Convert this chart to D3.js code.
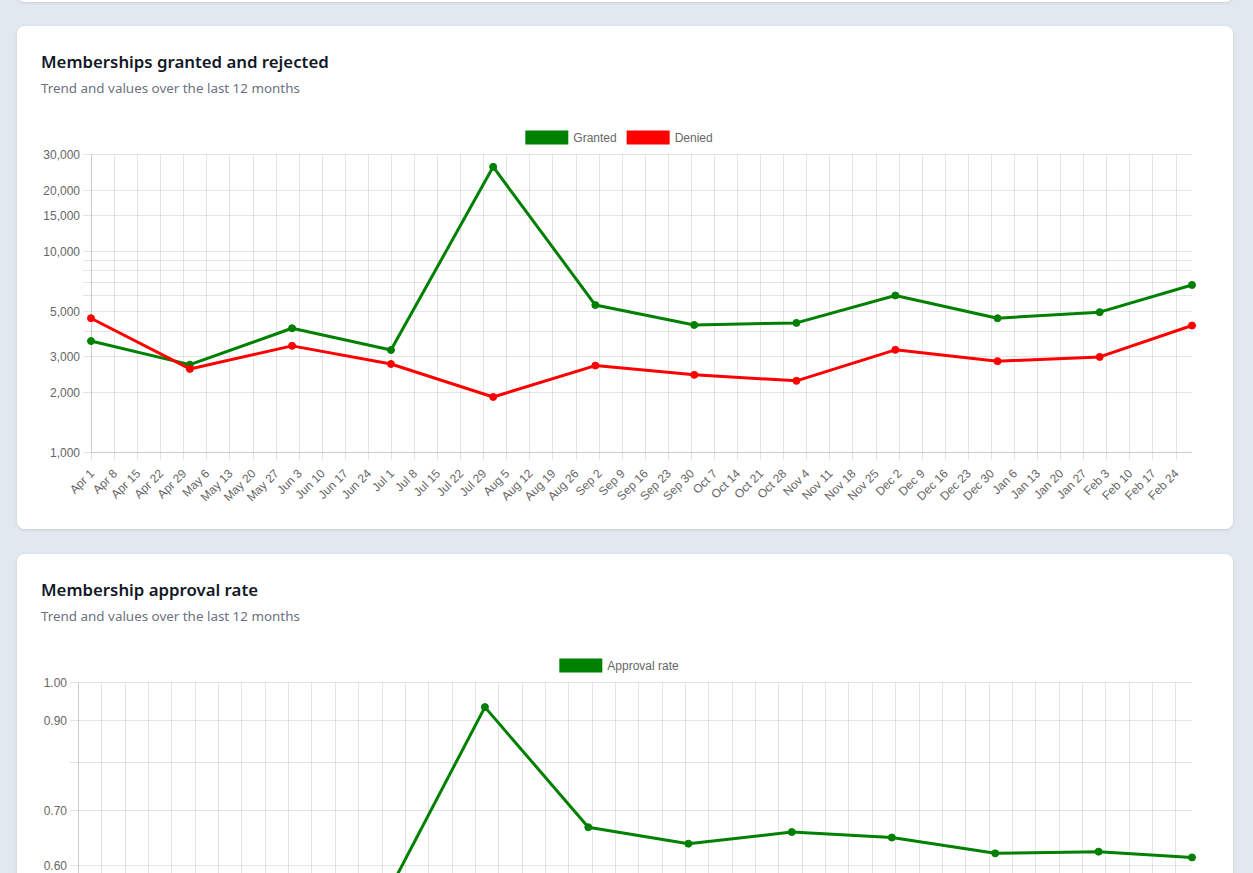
<!DOCTYPE html>
<html><head><meta charset="utf-8">
<script src="https://cdn.jsdelivr.net/npm/d3@7"></script>
<style>
html,body{margin:0;padding:0;background:#e2e8f0;overflow:hidden;}
svg{display:block;}
</style></head><body>
<svg id="c" width="1253" height="873"></svg>
<script>
// ---- data ----
const months = ["2024-04-01","2024-05-01","2024-06-01","2024-07-01","2024-08-01","2024-09-01",
                "2024-10-01","2024-11-01","2024-12-01","2025-01-01","2025-02-01","2025-03-01"];
const granted = [3560, 2720, 4120, 3215, 26000, 5370, 4280, 4380, 5990, 4620, 4950, 6750];
const denied  = [4620, 2590, 3370, 2740, 1880, 2690, 2420, 2260, 3220, 2830, 2970, 4250];
const approvalRate = [0.436, 0.512, 0.550, 0.537, 0.933, 0.667, 0.637, 0.658, 0.648, 0.620, 0.623, 0.613];

const countTicks = [1000,2000,3000,4000,5000,6000,7000,8000,9000,10000,15000,20000,30000];
const countTickLabels = ["1,000","2,000","3,000","","5,000","","","","","10,000","15,000","20,000","30,000"];
const rateTicks = [0.43,0.44,0.45,0.46,0.47,0.48,0.49,0.5,0.55,0.6,0.7,0.8,0.9,1.0];
const rateTickLabels = ["0.43","","0.45","","","","","0.50","0.55","0.60","0.70","","0.90","1.00"];

const titles = ["Memberships granted and rejected", "Membership approval rate"];
const subtitle = "Trend and values over the last 12 months";
const seriesNames = ["Granted", "Denied", "Approval rate"];
const colors = ["#008000", "#ff0000"];

// ---- drawing ----
const svg = d3.select("#c");
const defs = svg.append("defs");
const f = defs.append("filter").attr("id","sh").attr("x","-5%").attr("y","-5%").attr("width","110%").attr("height","110%");
f.append("feDropShadow").attr("dx",0).attr("dy",1).attr("stdDeviation",1.5).attr("flood-color","#000").attr("flood-opacity",0.12);

const parse = d3.utcParse("%Y-%m-%d");
const dates = months.map(parse);
const fmtDate = d3.utcFormat("%b %-d");
const LBL = "'Liberation Sans', Arial, Helvetica, sans-serif";
const TTL = "'Noto Sans', sans-serif";
const grid = "rgba(0,0,0,0.1)";
const VIEW_H = 873;

function card(y, h){
  svg.append("rect").attr("x",17).attr("y",y).attr("width",1216).attr("height",h)
    .attr("rx",8).attr("fill","#fff").attr("filter","url(#sh)");
}
card(-40, 42);
card(26, 503);
card(554, 503);

function header(top, title){
  svg.append("text").attr("x",41).attr("y",top+42).text(title)
    .attr("font-family",TTL).attr("font-weight",600).attr("font-size",16.8).attr("fill","#111827");
  svg.append("text").attr("x",41).attr("y",top+67).text(subtitle)
    .attr("font-family",TTL).attr("font-size",13.4).attr("fill","#6b7280");
}

function legend(top, items){
  const g = svg.append("g");
  const widths = items.map(it=>{
    const t = g.append("text").attr("font-family",LBL).attr("font-size",12).text(it.name);
    const w = t.node().getComputedTextLength(); t.remove(); return w;
  });
  const boxW = 43, gap = 5, sep = 10;
  const total = d3.sum(widths) + items.length*(boxW+gap) + (items.length-1)*sep;
  let x = 619 - total/2;
  items.forEach((it,i)=>{
    g.append("rect").attr("x",x).attr("y",top+104.5).attr("width",boxW).attr("height",14).attr("fill",it.color);
    g.append("text").attr("x",x+boxW+gap).attr("y",top+115.5).text(it.name)
      .attr("font-family",LBL).attr("font-size",12).attr("fill","#666");
    x += boxW + gap + widths[i] + sep;
  });
}

function chart(cfg){
  const {left, top, right, bottom, y, ticks, labels, series} = cfg;
  const x = d3.scaleUtc().domain([dates[0], dates[dates.length-1]]).range([left, right]);
  const g = svg.append("g");
  const weeks = d3.utcMonday.range(dates[0], dates[dates.length-1]);
  weeks.forEach(d=>{
    const xx = Math.round(x(d))+0.5;
    g.append("line").attr("x1",xx).attr("x2",xx).attr("y1",top).attr("y2",bottom+8)
      .attr("stroke",grid).attr("stroke-width",1);
  });
  ticks.forEach((t,i)=>{
    const yy = Math.round(y(t))+0.5;
    g.append("line").attr("x1",left-8).attr("x2",right).attr("y1",yy).attr("y2",yy)
      .attr("stroke",grid).attr("stroke-width",1);
    if (labels[i] && yy < VIEW_H - 6) g.append("text").attr("x",left-11).attr("y",yy).attr("dy","0.35em")
      .attr("text-anchor","end").text(labels[i])
      .attr("font-family",LBL).attr("font-size",12).attr("fill","#666");
  });
  g.append("line").attr("x1",Math.round(left)+0.5).attr("x2",Math.round(left)+0.5).attr("y1",top).attr("y2",bottom)
    .attr("stroke",grid);
  g.append("line").attr("x1",left).attr("x2",right).attr("y1",Math.round(bottom)+0.5).attr("y2",Math.round(bottom)+0.5)
    .attr("stroke",grid);
  if (bottom + 19 < VIEW_H) {
    weeks.forEach(d=>{
      const xx = x(d);
      g.append("text").attr("transform",`translate(${xx+1},${bottom+19}) rotate(-45)`)
        .attr("text-anchor","end").attr("dy","0.35em").text(fmtDate(d))
        .attr("font-family",LBL).attr("font-size",12).attr("fill","#666");
    });
  }
  series.forEach(s=>{
    const line = d3.line().x((v,i)=>x(dates[i])).y(v=>y(v));
    g.append("path").attr("d",line(s.values)).attr("fill","none").attr("stroke",s.color)
      .attr("stroke-width",3).attr("stroke-linejoin","round");
    g.selectAll(null).data(s.values).enter().append("circle")
      .attr("cx",(v,i)=>x(dates[i])).attr("cy",v=>y(v)).attr("r",3.5)
      .attr("fill",s.color).attr("stroke",s.color).attr("stroke-width",1);
  });
}

// chart 1
header(26, titles[0]);
legend(26, [{name:seriesNames[0], color:colors[0]},{name:seriesNames[1], color:colors[1]}]);
const y1 = d3.scaleLog().domain([countTicks[0], countTicks[countTicks.length-1]]).range([452.3, 154.3]);
chart({left:91, top:154.3, right:1192, bottom:452.3, y:y1, ticks:countTicks, labels:countTickLabels,
  series:[{values:granted, color:colors[0]},{values:denied, color:colors[1]}]});

// chart 2
header(554, titles[1]);
legend(554, [{name:seriesNames[2], color:colors[0]}]);
const y2 = d3.scaleLog().domain([rateTicks[0], rateTicks[rateTicks.length-1]]).range([984.3, 682.3]);
chart({left:78, top:682.3, right:1192, bottom:984.3, y:y2, ticks:rateTicks, labels:rateTickLabels,
  series:[{values:approvalRate, color:colors[0]}]});
</script>
</body></html>
